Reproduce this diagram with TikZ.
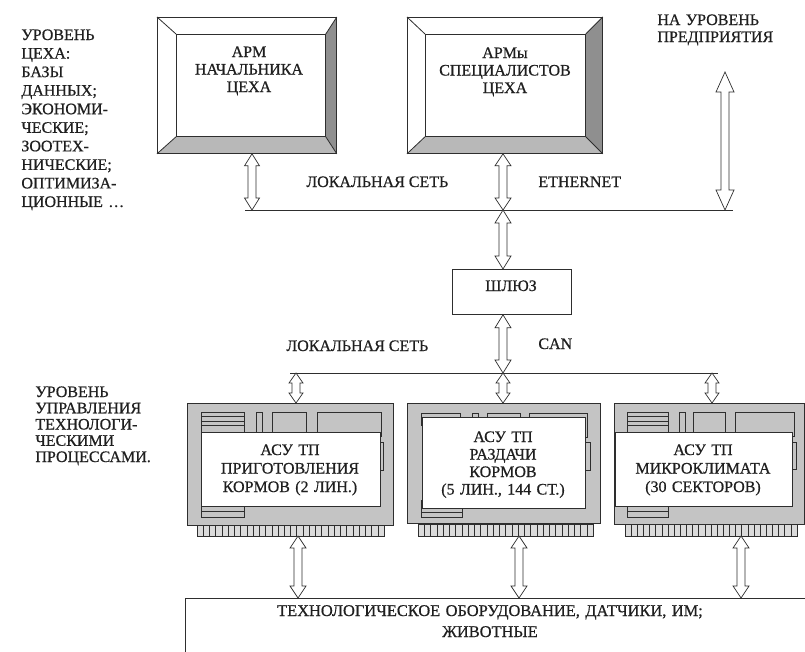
\documentclass[tikz,border=0pt]{standalone}
\usepackage{fontspec}
\setmainfont{Liberation Serif}[FakeBold=0.6]
\usetikzlibrary{calc}
\definecolor{bevdark}{gray}{0.56}
\definecolor{bevmid}{gray}{0.72}
\definecolor{cardg}{gray}{0.77}
\definecolor{pinbg}{gray}{0.86}
\definecolor{ln}{gray}{0.18}
\definecolor{tx}{gray}{0.12}
\newcommand\darr[4]{\draw[barrow] let \p1=(#1), \p2=(#2) in
  (\x1,\y1) -- ({\x1+#3},{\y1-#4}) -- ({\x1+4pt},{\y1-#4}) -- ({\x1+4pt},{\y2+#4})
  -- ({\x1+#3},{\y2+#4}) -- (\x1,\y2) -- ({\x1-#3},{\y2+#4}) -- ({\x1-4pt},{\y2+#4})
  -- ({\x1-4pt},{\y1-#4}) -- ({\x1-#3},{\y1-#4}) -- cycle;}
\begin{document}
\begin{tikzpicture}[x=1pt,y=-1pt, line width=0.8pt,
  txt/.style={font=\fontsize{16}{18}\selectfont, inner sep=0pt, text=tx},
  ctxt/.style={txt, text width=220pt, align=center, anchor=base},
  ltxt/.style={txt, text width=160pt, align=left, anchor=base west},
  box/.style={rectangle, inner sep=0pt, anchor=north west},
  barrow/.style={draw=ln, fill=white, line width=0.7pt, line join=miter},
  comp/.style={draw=ln, fill=cardg, line width=0.6pt},
  lbl/.style={draw=ln, fill=white, line width=0.6pt},
  card/.style={box, draw=ln, fill=cardg, line width=0.7pt}
]
\useasboundingbox (0,0) rectangle (805,651);
\fill[white] (0,0) rectangle (805,651);

% ---------- monitor 1 ----------
\node[box, minimum width=179pt, minimum height=136pt] (m1) at (157,17) {};
\coordinate (m1nw) at ($(m1.north west)+(19,17)$);
\coordinate (m1ne) at ($(m1.north east)+(-11,17)$);
\coordinate (m1se) at ($(m1.south east)+(-11,-17)$);
\coordinate (m1sw) at ($(m1.south west)+(19,-17)$);
\fill[bevdark] (m1.north east) -- (m1.south east) -- (m1se) -- (m1ne) -- cycle;
\fill[bevmid] (m1.south west) -- (m1.south east) -- (m1se) -- (m1sw) -- cycle;
\draw[ln] (m1.north west) rectangle (m1.south east);
\draw[ln] (m1nw) rectangle (m1se);
\draw[ln] (m1.north west) -- (m1nw) (m1.north east) -- (m1ne)
  (m1.south east) -- (m1se) (m1.south west) -- (m1sw);

% ---------- monitor 2 ----------
\node[box, minimum width=195pt, minimum height=136pt] (m2) at (407,17) {};
\coordinate (m2nw) at ($(m2.north west)+(18,17)$);
\coordinate (m2ne) at ($(m2.north east)+(-17,17)$);
\coordinate (m2se) at ($(m2.south east)+(-17,-17)$);
\coordinate (m2sw) at ($(m2.south west)+(18,-17)$);
\fill[bevdark] (m2.north east) -- (m2.south east) -- (m2se) -- (m2ne) -- cycle;
\fill[bevmid] (m2.south west) -- (m2.south east) -- (m2se) -- (m2sw) -- cycle;
\draw[ln] (m2.north west) rectangle (m2.south east);
\draw[ln] (m2nw) rectangle (m2se);
\draw[ln] (m2.north west) -- (m2nw) (m2.north east) -- (m2ne)
  (m2.south east) -- (m2se) (m2.south west) -- (m2sw);

% ---------- gateway ----------
\node[box, draw=ln, minimum width=119pt, minimum height=45pt] (gw) at (452,269) {};

% ---------- network lines ----------
\coordinate (ethL) at (245,210);
\coordinate (ethR) at (733,210);
\coordinate (canL) at (290,373);
\coordinate (canR) at (718,373);
\draw[ln] (ethL) -- (ethR);
\draw[ln] (canL) -- (canR);

% ---------- card 1 ----------
\node[card, minimum width=206pt, minimum height=122pt] (c1) at (187,403) {};
\fill[pinbg] (197,525) rectangle (384,536);
\draw[ln, line width=0.5pt] (197,525) rectangle (384,536);
\foreach \i in {1,...,29} \draw[ln, line width=0.5pt] ({197+\i*187/30},525) -- ++(0,11);
\draw[comp] (201,412) rectangle (244,432);
\foreach \yy in {416.5,421,425.5} \draw[ln, line width=0.9pt] (201,\yy) -- (244,\yy);
\draw[comp] (256,412) rectangle (262,432);
\draw[comp] (272,412) rectangle (306,432);
\draw[comp] (317,412) rectangle (381,436);
\draw[comp] (201,500) rectangle (244,517);
\draw[ln, line width=0.6pt] (201,511.5) -- (244,511.5);
\draw[comp] (378,442) rectangle (383,470);
\draw[lbl] (201,432) rectangle (380,506);

% ---------- card 2 ----------
\node[card, minimum width=193pt, minimum height=120pt] (c2) at (407,403) {};
\fill[pinbg] (418,524) rectangle (593,536);
\draw[ln, line width=0.5pt] (418,524) rectangle (593,536);
\foreach \i in {1,...,27} \draw[ln, line width=0.5pt] ({418+\i*175/28},524) -- ++(0,12);
\draw[comp] (421,413) rectangle (460,425);
\draw[comp] (472,413) rectangle (478,425);
\draw[comp] (487,413) rectangle (520,425);
\draw[comp] (529,413) rectangle (587,437);
\draw[comp] (421,500) rectangle (462,517);
\draw[ln, line width=0.6pt] (421,512) -- (462,512);
\draw[comp] (583,442) rectangle (590,470);
\draw[lbl] (422,417) rectangle (585,508);

% ---------- card 3 ----------
\node[card, minimum width=190pt, minimum height=121pt] (c3) at (614,403) {};
\fill[pinbg] (625,524) rectangle (797,536);
\draw[ln, line width=0.5pt] (625,524) rectangle (797,536);
\foreach \i in {1,...,27} \draw[ln, line width=0.5pt] ({625+\i*172/28},524) -- ++(0,12);
\draw[comp] (627,412) rectangle (668,432);
\foreach \yy in {416.5,421,425.5} \draw[ln, line width=0.9pt] (627,\yy) -- (668,\yy);
\draw[comp] (679,412) rectangle (685,432);
\draw[comp] (693,412) rectangle (725,432);
\draw[comp] (735,412) rectangle (794,436);
\draw[comp] (627,500) rectangle (668,517);
\draw[ln, line width=0.6pt] (627,511.5) -- (668,511.5);
\draw[comp] (790,442) rectangle (796,469);
\draw[lbl] (615,432) rectangle (792,506);

% ---------- bottom box ----------
\node[box, draw=ln, minimum width=640pt, minimum height=70pt] (bb) at (185,598) {};

% ---------- arrow end points ----------
\coordinate (e1) at (252,210);
\coordinate (e2) at (503,210);
\coordinate (up5) at (725,72);
\coordinate (e5) at (725,210);
\coordinate (k1) at (296,373);
\coordinate (k2) at (503,373);
\coordinate (k3) at (712,373);
\coordinate (p1) at (298,536);
\coordinate (p2) at (519,536);
\coordinate (p3) at (741,536);

\darr{m1.south -| e1}{e1}{7.5pt}{12pt}
\darr{m2.south -| e2}{e2}{8pt}{12pt}
\darr{e2}{gw.north -| e2}{8pt}{13pt}
\darr{gw.south -| k2}{k2}{8pt}{13pt}
\darr{up5}{e5}{9pt}{20pt}
\darr{k1}{c1.north -| k1}{7pt}{10pt}
\darr{k2}{c2.north -| k2}{7pt}{10pt}
\darr{k3}{c3.north -| k3}{7pt}{10pt}
\darr{p1}{bb.north -| p1}{8pt}{12pt}
\darr{p2}{bb.north -| p2}{8pt}{12pt}
\darr{p3}{bb.north -| p3}{8pt}{12pt}

% ---------- texts ----------
\node[ctxt, font=\fontsize{16}{17.5}\selectfont] (t1) at (249,57) {АРМ\\НАЧАЛЬНИКА\\ЦЕХА};
\node[ctxt, font=\fontsize{16}{17.5}\selectfont] (t2) at (505,58) {АРМы\\СПЕЦИАЛИСТОВ\\ЦЕХА};
\node[txt, anchor=base] (tgw) at (511,291) {ШЛЮЗ};
\node[txt, anchor=base west] (tls1) at (306,187) {ЛОКАЛЬНАЯ СЕТЬ};
\node[txt, anchor=base west] (teth) at (538,187) {ETHERNET};
\node[txt, anchor=base west] (tls2) at (286,351) {ЛОКАЛЬНАЯ СЕТЬ};
\node[txt, anchor=base west] (tcan) at (538,349) {CAN};
\node[ltxt, font=\fontsize{16}{17}\selectfont] (tent) at (657,25) {НА УРОВЕНЬ\\ПРЕДПРИЯТИЯ};
\node[ltxt, font=\fontsize{16}{18.55}\selectfont] (tshop) at (21,40)
  {УРОВЕНЬ\\ЦЕХА:\\БАЗЫ\\ДАННЫХ;\\ЭКОНОМИ-\\ЧЕСКИЕ;\\ЗООТЕХ-\\НИЧЕСКИЕ;\\ОПТИМИЗА-\\ЦИОННЫЕ …};
\node[ltxt, font=\fontsize{16}{16.25}\selectfont] (tproc) at (35,397)
  {УРОВЕНЬ\\УПРАВЛЕНИЯ\\ТЕХНОЛОГИ-\\ЧЕСКИМИ\\ПРОЦЕССАМИ.};
\node[ctxt, font=\fontsize{16}{18.5}\selectfont] (tc1) at (290,455) {АСУ ТП\\ПРИГОТОВЛЕНИЯ\\КОРМОВ (2 ЛИН.)};
\node[ctxt, font=\fontsize{16}{17.5}\selectfont] (tc2) at (503,442) {АСУ ТП\\РАЗДАЧИ\\КОРМОВ\\(5 ЛИН., 144 СТ.)};
\node[ctxt, font=\fontsize{16}{18.5}\selectfont] (tc3) at (703,455) {АСУ ТП\\МИКРОКЛИМАТА\\(30 СЕКТОРОВ)};
\node[ctxt, text width=520pt, font=\fontsize{16.4}{21}\selectfont] (tbb) at (490,616)
  {ТЕХНОЛОГИЧЕСКОЕ ОБОРУДОВАНИЕ, ДАТЧИКИ, ИМ;\\ЖИВОТНЫЕ};
\end{tikzpicture}
\end{document}
